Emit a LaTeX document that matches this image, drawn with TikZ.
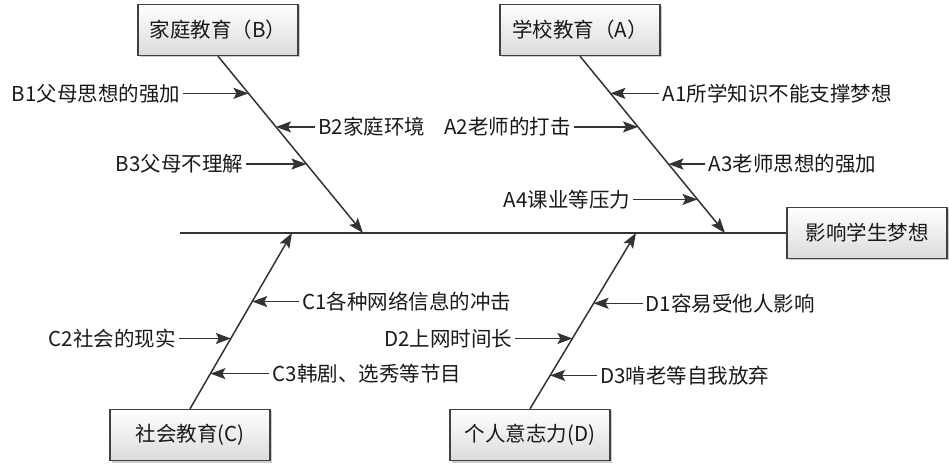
\documentclass[tikz,border=0pt]{standalone}
\usepackage{fontspec}
\setmainfont{Noto Sans CJK SC}
\usetikzlibrary{arrows.meta,positioning,shadows}
\begin{document}
\begin{tikzpicture}[x=1bp,y=-1bp,
  every node/.style={font=\fontsize{20.5bp}{24bp}\selectfont,text=black!90},
  causebox/.style={draw=black!75,line width=1.4bp,top color=white,bottom color=black!14,
    minimum width=160bp,minimum height=51bp,inner sep=0pt,
    drop shadow={shadow xshift=2bp,shadow yshift=-2bp,fill=black!40,opacity=0.5}},
  bone/.style={draw=black!80,line width=1.5bp,-{Stealth[length=15bp,width=11bp,inset=3bp]}},
  cause/.style={draw=black!80,line width=1.5bp,-{Stealth[length=15bp,width=11bp,inset=3bp]}},
  lbl/.style={inner sep=3bp}]
\useasboundingbox (0,0) rectangle (949,464);
% main spine
\node[causebox] (eff) at (867,233) {影响学生梦想};
\coordinate (tail) at (180,233);
\draw[draw=black!80,line width=1.5bp] (tail) -- (eff);
\coordinate (hB) at (363,233);
\coordinate (hA) at (725,233);
\coordinate (hC) at (292,233);
\coordinate (hD) at (636,233);
% main causes
\node[causebox] (B) at (218,30) {家庭教育（B）};
\node[causebox] (A) at (580,30) {学校教育（A）};
\node[causebox] (C) at (190,435) {社会教育(C)};
\node[causebox] (D) at (530,435) {个人意志力(D)};
\draw[bone] (B.south) -- coordinate[pos=0.21] (b1) coordinate[pos=0.40] (b2) coordinate[pos=0.61] (b3) (hB);
\draw[bone] (A.south) -- coordinate[pos=0.21] (a1) coordinate[pos=0.40] (a2) coordinate[pos=0.61] (a3) coordinate[pos=0.81] (a4) (hA);
\draw[bone] (C.north) -- coordinate[pos=0.20] (c3) coordinate[pos=0.40] (c2) coordinate[pos=0.61] (c1) (hC);
\draw[bone] (D.north) -- coordinate[pos=0.19] (d3) coordinate[pos=0.40] (d2) coordinate[pos=0.60] (d1) (hD);
% sub causes
\node[lbl,left=65bp of b1] (lb1) {B1父母思想的强加};
\node[lbl,right=39bp of b2] (lb2) {B2家庭环境};
\node[lbl,left=60bp of b3] (lb3) {B3父母不理解};
\node[lbl,right=49bp of a1] (la1) {A1所学知识不能支撑梦想};
\node[lbl,left=64bp of a2] (la2) {A2老师的打击};
\node[lbl,right=37bp of a3] (la3) {A3老师思想的强加};
\node[lbl,left=64bp of a4] (la4) {A4课业等压力};
\node[lbl,right=47bp of c1] (lc1) {C1各种网络信息的冲击};
\node[lbl,left=52bp of c2] (lc2) {C2社会的现实};
\node[lbl,right=59bp of c3] (lc3) {C3韩剧、选秀等节目};
\node[lbl,right=49bp of d1] (ld1) {D1容易受他人影响};
\node[lbl,left=57bp of d2] (ld2) {D2上网时间长};
\node[lbl,right=47bp of d3] (ld3) {D3啃老等自我放弃};
\foreach \l/\p in {lb1/b1,lb2/b2,lb3/b3,la1/a1,la2/a2,la3/a3,la4/a4,lc1/c1,lc2/c2,lc3/c3,ld1/d1,ld2/d2,ld3/d3}
  \draw[cause] (\l) -- (\p);
\end{tikzpicture}
\end{document}
